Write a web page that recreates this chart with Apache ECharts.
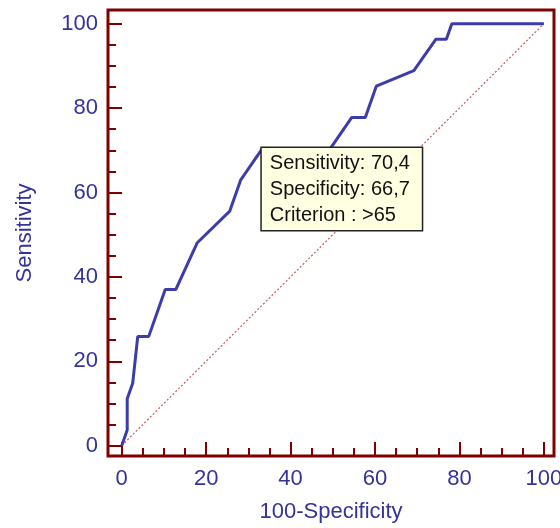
<!DOCTYPE html>
<html>
<head>
<meta charset="UTF-8">
<title>ROC curve</title>
<script src="https://cdn.jsdelivr.net/npm/echarts@6/dist/echarts.min.js"></script>
<style>
  html, body { margin: 0; padding: 0; background: #fff; }
  #roc { width: 560px; height: 528px; }
</style>
</head>
<body>
<div id="roc"></div>
<script>
// 100-Specificity (x) and Sensitivity (y) of the ROC curve
var fpr  = [0, 1.3, 1.3, 2.6, 3.8, 6.4, 9.0, 10.3, 12.8, 17.9, 25.6, 28.2, 33.3, 49.4, 54.5, 57.7, 60.3, 69.2, 74.4, 76.9, 78.2, 100];
var sens = [0, 3.7, 11.1, 14.8, 25.9, 25.9, 33.3, 37.0, 37.0, 48.1, 55.6, 63.0, 70.4, 70.4, 77.8, 77.8, 85.2, 88.9, 96.3, 96.3, 100, 100];
var majorTicks = [0, 20, 40, 60, 80, 100];
var minorTicks = [5, 10, 15, 25, 30, 35, 45, 50, 55, 65, 70, 75, 85, 90, 95];
// criterion point shown in the yellow box
var critPoint = [33.3, 70.4];
var critLines = ['Sensitivity: 70,4', 'Specificity: 66,7', 'Criterion : >65'];

var frameColor = '#800000';
var textBlue = '#333399';
var font = "'Liberation Sans', Arial, sans-serif";

var rocData = fpr.map(function (x, i) { return [x, sens[i]]; });

var chart = echarts.init(document.getElementById('roc'));

function axisPair(dim, min, max, nameOpt) {
  var major = {
    type: 'value',
    min: min,
    max: max,
    position: dim === 'x' ? 'bottom' : 'left',
    splitLine: { show: false },
    axisLine: { show: false, onZero: false },
    axisTick: {
      show: true, inside: true, length: 14, customValues: majorTicks,
      lineStyle: { color: frameColor, width: 2 }
    },
    axisLabel: {
      show: true, customValues: majorTicks, color: textBlue,
      fontSize: 22, fontFamily: font, margin: dim === 'x' ? 12 : 10
    }
  };
  for (var k in nameOpt) major[k] = nameOpt[k];
  var minor = {
    type: 'value',
    min: min,
    max: max,
    position: dim === 'x' ? 'bottom' : 'left',
    offset: 0,
    splitLine: { show: false },
    axisLine: { show: false, onZero: false },
    axisLabel: { show: false },
    axisTick: {
      show: true, inside: true, length: 8, customValues: minorTicks,
      lineStyle: { color: frameColor, width: 2 }
    }
  };
  return [major, minor];
}

var option = {
  animation: false,
  grid: {
    left: 108, right: 6, top: 10, bottom: 72,
    outerBoundsMode: 'none',
    show: true, borderColor: frameColor, borderWidth: 3, backgroundColor: '#fff'
  },
  xAxis: axisPair('x', -3.25, 102.4, {
    name: '100-Specificity', nameLocation: 'middle', nameGap: 45,
    nameTextStyle: { color: textBlue, fontSize: 22, fontFamily: font }
  }),
  yAxis: axisPair('y', -2.45, 103.25, {
    name: 'Sensitivity', nameLocation: 'middle', nameGap: 72,
    nameTextStyle: { color: textBlue, fontSize: 22, fontFamily: font }
  }),
  series: [
    {
      name: 'reference',
      type: 'line',
      z: 2,
      symbol: 'none',
      silent: true,
      data: [[0, 0], [100, 100]],
      lineStyle: { color: '#c85a5a', width: 1.2, type: [2, 2] }
    },
    {
      name: 'ROC',
      type: 'line',
      z: 3,
      symbol: 'none',
      data: rocData,
      lineStyle: { color: '#3c3cac', width: 3 },
      markPoint: {
        symbol: 'rect',
        symbolSize: 1,
        itemStyle: { color: 'rgba(0,0,0,0)' },
        data: [{ coord: critPoint }],
        label: {
          show: true,
          position: [0, 0],
          formatter: critLines.join('\n'),
          color: '#111',
          fontSize: 20,
          fontFamily: font,
          lineHeight: 26,
          width: 144,
          backgroundColor: '#ffffe1',
          borderColor: '#222',
          borderWidth: 1.5,
          padding: [2, 8, 2, 8]
        }
      }
    }
  ]
};
chart.setOption(option);
</script>
</body>
</html>
